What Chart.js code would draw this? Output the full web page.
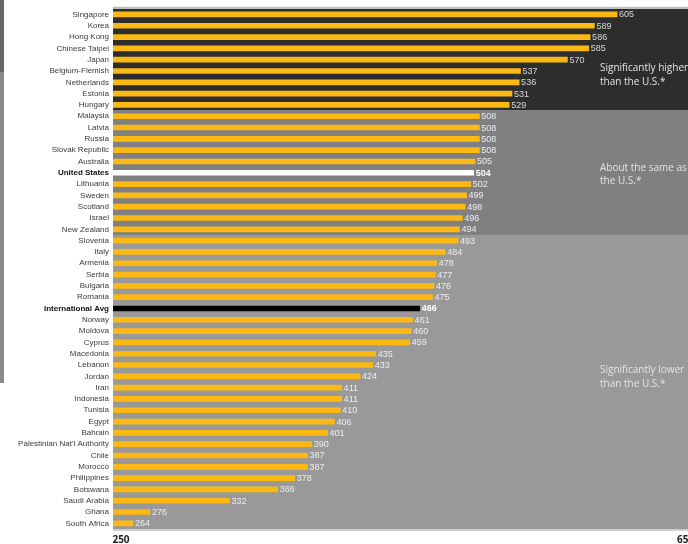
<!DOCTYPE html>
<html>
<head>
<meta charset="utf-8">
<script src="https://cdn.jsdelivr.net/npm/chart.js@4.4.1/dist/chart.umd.min.js"></script>
<style>
  html, body { margin: 0; padding: 0; background: #fff; }
  #wrap { width: 688px; height: 544px; position: relative; }
</style>
</head>
<body>
<div id="wrap"><canvas id="chart" width="688" height="544"></canvas></div>
<script>
// Countries, top to bottom
const countries = [
    'Singapore', 'Korea', 'Hong Kong', 'Chinese Taipei', 'Japan', 'Belgium-Flemish',
    'Netherlands', 'Estonia', 'Hungary', 'Malaysia', 'Latvia', 'Russia',
    'Slovak Republic', 'Australia', 'United States', 'Lithuania', 'Sweden', 'Scotland',
    'Israel', 'New Zealand', 'Slovenia', 'Italy', 'Armenia', 'Serbia',
    'Bulgaria', 'Romania', 'International Avg', 'Norway', 'Moldova', 'Cyprus',
    'Macedonia', 'Lebanon', 'Jordan', 'Iran', 'Indonesia', 'Tunisia',
    'Egypt', 'Bahrain', "Palestinian Nat'l Authority", 'Chile', 'Morocco', 'Philippines',
    'Botswana', 'Saudi Arabia', 'Ghana', 'South Africa'
];
const scores = [
    605, 589, 586, 585, 570, 537,
    536, 531, 529, 508, 508, 508,
    508, 505, 504, 502, 499, 498,
    496, 494, 493, 484, 478, 477,
    476, 475, 466, 461, 460, 459,
    435, 433, 424, 411, 411, 410,
    406, 401, 390, 387, 387, 378,
    366, 332, 276, 264
];
// groups: index of the first row of each band
const groupStarts = [0, 9, 20];
const groupLabels = [
    ['Significantly higher', 'than the U.S.*'],
    ['About the same as', 'the U.S.*'],
    ['Significantly lower', 'than the U.S.*']
];
const axisMin = 250;
const axisMax = 650;

const usIdx = countries.indexOf('United States');
const avgIdx = countries.indexOf('International Avg');

const barColors = countries.map((c, i) => i === usIdx ? '#ffffff' : (i === avgIdx ? '#000000' : '#fdb913'));

const bandColors = ['#2d2d2d', '#808083', '#999999'];
const labelFont = "'Liberation Sans Narrow', 'Liberation Sans', sans-serif";

const backdrop = {
    id: 'backdrop',
    beforeDraw(chart) {
        const ctx = chart.ctx;
        const area = chart.chartArea;
        const y = chart.scales.y;
        const step = (area.bottom - area.top) / countries.length;
        ctx.save();
        // strip on the far left
        ctx.fillStyle = '#8a8a8a';
        ctx.fillRect(0, 0, 4, 383);
        ctx.fillStyle = '#666666';
        ctx.fillRect(0, 0, 4, 72);
        // bands
        groupStarts.forEach((start, g) => {
            const top = g === 0 ? area.top : y.getPixelForValue(start) - step / 2;
            const end = g + 1 < groupStarts.length ? groupStarts[g + 1] : countries.length;
            const bottom = end === countries.length ? area.bottom : y.getPixelForValue(end) - step / 2;
            ctx.fillStyle = bandColors[g];
            ctx.fillRect(area.left, top, chart.width - area.left, bottom - top);
        });
        ctx.fillStyle = '#bdbdbd';
        ctx.fillRect(area.left, area.top - 2, chart.width - area.left, 2);
        ctx.fillStyle = '#d0d0d0';
        ctx.fillRect(area.left, area.bottom, chart.width - area.left, 2);
        ctx.restore();
    },
    afterDatasetsDraw(chart) {
        const ctx = chart.ctx;
        const meta = chart.getDatasetMeta(0);
        ctx.save();
        ctx.textBaseline = 'middle';
        ctx.textAlign = 'left';
        meta.data.forEach((bar, i) => {
            const special = i === usIdx || i === avgIdx;
            ctx.font = (special ? 'bold ' : '') + '9px ' + labelFont;
            ctx.fillStyle = i < groupStarts[1] ? '#d8d8d8' : (special ? '#ffffff' : '#eeeeee');
            ctx.fillText(String(scores[i]), bar.x + 2, bar.y + 0.5);
        });
        // band notes
        const notes = [[68, 82], [168, 181], [370, 384]];
        ctx.font = '10px ' + "'Open Sans', sans-serif";
        ctx.fillStyle = '#e4e4e4';
        groupLabels.forEach((lines, g) => {
            lines.forEach((t, k) => ctx.fillText(t, 600, notes[g][k]));
        });
        // end ticks
        ctx.font = "bold 10px 'Open Sans', sans-serif";
        ctx.fillStyle = '#222';
        ctx.textAlign = 'center';
        const x = chart.scales.x;
        ctx.fillText(String(axisMin), x.getPixelForValue(axisMin) + 8, 540);
        ctx.textAlign = 'left';
        ctx.fillText(String(axisMax), x.getPixelForValue(axisMax) - 4, 540);
        ctx.restore();
    }
};

new Chart(document.getElementById('chart'), {
    type: 'bar',
    data: {
        labels: countries,
        datasets: [{
            data: scores,
            backgroundColor: barColors,
            barThickness: 5,
            borderWidth: 0
        }]
    },
    options: {
        indexAxis: 'y',
        responsive: false,
        animation: false,
        layout: { padding: { top: 8, bottom: 15, right: 7, left: 0 } },
        plugins: { legend: { display: false }, tooltip: { enabled: false } },
        scales: {
            x: {
                min: axisMin,
                max: axisMax,
                display: false
            },
            y: {
                grid: { display: false, drawTicks: false },
                border: { display: false },
                afterFit(scale) { scale.width = 113; },
                ticks: {
                    autoSkip: false,
                    padding: 4,
                    color: (c) => (c.index === usIdx || c.index === avgIdx) ? '#111' : '#3a3a3a',
                    font: (c) => ({
                        family: labelFont,
                        size: 8,
                        weight: (c.index === usIdx || c.index === avgIdx) ? 'bold' : 'normal'
                    })
                }
            }
        }
    },
    plugins: [backdrop]
});
</script>
</body>
</html>
